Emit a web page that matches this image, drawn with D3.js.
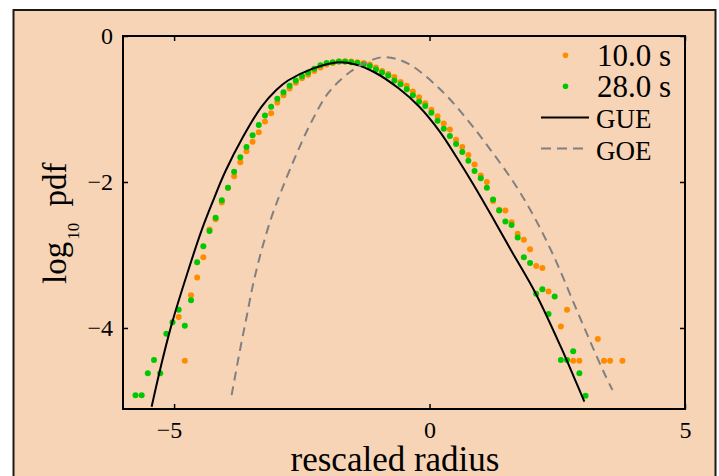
<!DOCTYPE html>
<html><head><meta charset="utf-8">
<script src="https://cdn.jsdelivr.net/npm/d3@7/dist/d3.min.js"></script>
<style>
body{margin:0;background:#fff;}
svg{display:block;font-family:"Liberation Serif","Times New Roman",serif;}
</style>
</head><body>
<svg id="chart" width="719" height="476"></svg>
<script>
// ---- data ----
const binX = [-5.755,-5.634,-5.514,-5.393,-5.272,-5.152,-5.031,-4.910,-4.790,-4.669,
  -4.549,-4.428,-4.307,-4.187,-4.066,-3.945,-3.825,-3.704,-3.583,-3.463,
  -3.342,-3.221,-3.101,-2.980,-2.859,-2.739,-2.618,-2.497,-2.377,-2.256,
  -2.135,-2.015,-1.894,-1.774,-1.653,-1.532,-1.412,-1.291,-1.170,-1.050,
  -0.929,-0.808,-0.688,-0.567,-0.446,-0.326,-0.205,-0.084,0.036,0.157,
  0.278,0.398,0.519,0.640,0.760,0.881,1.002,1.122,1.243,1.363,
  1.484,1.605,1.725,1.846,1.967,2.087,2.208,2.329,2.449,2.570,
  2.691,2.811,2.932,3.053,3.173,3.294,3.414,3.535,3.656,3.776];

const pdf10s = [null,null,null,null,null,null,null,-3.85,-4.45,-3.55,
  -3.31,-3.03,-2.65,-2.51,-2.28,-2.08,-1.92,-1.73,-1.58,-1.45,
  -1.32,-1.17,-1.06,-0.91,-0.81,-0.72,-0.64,-0.58,-0.53,-0.48,
  -0.43,-0.39,-0.37,-0.35,-0.35,-0.35,-0.36,-0.37,-0.39,-0.43,
  -0.48,-0.52,-0.56,-0.63,-0.68,-0.76,-0.84,-0.92,-1.01,-1.10,
  -1.20,-1.28,-1.42,-1.52,-1.63,-1.76,-1.91,-2.00,-2.26,-2.38,
  -2.39,-2.55,-2.71,-2.79,-2.92,-3.15,-3.18,-3.50,null,-3.98,
  -3.75,-4.45,-4.45,null,null,-4.15,-4.45,-4.45,null,-4.45];

const pdf28s = [-4.92,-4.92,-4.62,-4.44,-4.62,-4.08,-3.92,-3.75,-3.97,-3.62,
  -3.10,-2.88,-2.67,-2.49,-2.25,-2.08,-1.86,-1.66,-1.52,-1.36,
  -1.22,-1.09,-0.97,-0.86,-0.77,-0.68,-0.61,-0.55,-0.50,-0.45,
  -0.40,-0.37,-0.36,-0.35,-0.35,-0.36,-0.37,-0.39,-0.41,-0.46,
  -0.50,-0.54,-0.61,-0.66,-0.73,-0.81,-0.90,-0.96,-1.05,-1.16,
  -1.27,-1.37,-1.48,-1.59,-1.71,-1.85,-1.95,-2.08,-2.24,-2.39,
  -2.54,-2.59,-2.76,-3.03,-3.11,-3.53,-3.47,-3.81,-3.57,-4.44,
  -4.44,-4.32,-4.62,-4.93,null,null,null,null,null,null];

const gueX = [-5.44,-5.25,-5.04,-4.75,-4.46,-4.25,-4.00,-3.65,-3.29,-3.00,-2.77,-2.30,-1.79,
  -1.45,-1.07,-0.60,-0.20,0.20,0.52,0.846,1.22,1.595,2.08,2.57,2.83,3.03];
const gueY = [-5.08,-4.50,-3.93,-3.27,-2.66,-2.28,-1.86,-1.38,-0.97,-0.74,-0.61,-0.45,-0.36,
  -0.39,-0.50,-0.72,-0.97,-1.31,-1.65,-2.02,-2.47,-2.935,-3.53,-4.26,-4.68,-5.01];

const goeX = [-3.874,-3.711,-3.581,-3.451,-3.288,-3.092,-2.90,-2.60,-2.30,-1.97,-1.55,-1.10,-0.85,
  -0.42,0.228,0.749,1.20,1.66,2.05,2.44,2.83,3.16,3.42,3.58];
const goeY = [-4.92,-4.305,-3.849,-3.392,-2.936,-2.479,-2.12,-1.61,-1.16,-0.77,-0.49,-0.32,-0.29,
  -0.378,-0.744,-1.155,-1.566,-2.02,-2.48,-3.03,-3.67,-4.21,-4.62,-4.85];

const xTicks = [-5, 0, 5];
const yTicks = [0, -2, -4];
const seriesNames = ["10.0 s", "28.0 s"];
const curveNames = ["GUE", "GOE"];
const xTitle = "rescaled radius";

// ---- layout ----
const svg = d3.select("#chart");
const bg = "#f7d4b6";
const orange = "#ff8c00", green = "#00c800";
const L = 123, R = 685, T = 36, B = 409;

svg.append("rect").attr("x", 13.5).attr("y", 10).attr("width", 702).attr("height", 480)
  .attr("fill", bg).attr("stroke", "#1a1a1a").attr("stroke-width", 2);

const x = d3.scaleLinear().domain([-6, 5]).range([L, R]);
const y = d3.scaleLinear().domain([-5.11, 0]).range([B, T]);

const fmt = d => d < 0 ? "\u2212" + Math.abs(d) : String(d);

// axes
const gx = svg.append("g").attr("transform", `translate(0,${B})`)
  .call(d3.axisBottom(x).tickValues(xTicks).tickSizeInner(-5).tickSizeOuter(0).tickPadding(12).tickFormat(fmt));
const gy = svg.append("g").attr("transform", `translate(${L},0)`)
  .call(d3.axisLeft(y).tickValues(yTicks).tickSizeInner(-5).tickSizeOuter(0).tickPadding(10).tickFormat(fmt));
const gt = svg.append("g").attr("transform", `translate(0,${T})`)
  .call(d3.axisTop(x).tickValues(xTicks).tickSizeInner(-5).tickSizeOuter(0).tickFormat(""));
const gr = svg.append("g").attr("transform", `translate(${R},0)`)
  .call(d3.axisRight(y).tickValues(yTicks).tickSizeInner(-5).tickSizeOuter(0).tickFormat(""));
[gx, gy, gt, gr].forEach(g => {
  g.select(".domain").remove();
  g.selectAll(".tick line").attr("stroke", "#000").attr("stroke-width", 1.5);
  g.selectAll("text").attr("font-family", "Liberation Serif, serif").attr("font-size", 24).attr("fill", "#000");
});
gx.selectAll(".tick text").attr("x", d => d < 0 ? -5 : 0);

// data dots
const pts10 = binX.map((v, i) => [v, pdf10s[i]]).filter(d => d[1] !== null);
const pts28 = binX.map((v, i) => [v, pdf28s[i]]).filter(d => d[1] !== null);

svg.append("g").selectAll("circle").data(pts10).join("circle")
  .attr("cx", d => x(d[0])).attr("cy", d => y(d[1])).attr("r", 3).attr("fill", orange);
svg.append("g").selectAll("circle").data(pts28).join("circle")
  .attr("cx", d => x(d[0])).attr("cy", d => y(d[1])).attr("r", 3).attr("fill", green);

// theory curves
const line = d3.line().x(d => x(d[0])).y(d => y(d[1])).curve(d3.curveCatmullRom.alpha(0.5));
svg.append("path").datum(gueX.map((v, i) => [v, gueY[i]]))
  .attr("d", line).attr("fill", "none").attr("stroke", "#000").attr("stroke-width", 2);
svg.append("path").datum(goeX.map((v, i) => [v, goeY[i]]))
  .attr("d", line).attr("fill", "none").attr("stroke", "#808080").attr("stroke-width", 2)
  .attr("stroke-dasharray", "9,6");

// box
svg.append("rect").attr("x", L).attr("y", T).attr("width", R - L).attr("height", B - T)
  .attr("fill", "none").attr("stroke", "#000").attr("stroke-width", 2);

// legend
const lg = svg.append("g");
[orange, green].forEach((c, i) => {
  lg.append("circle").attr("cx", 565.5).attr("cy", 55.3 + i * 31).attr("r", 2.8).attr("fill", c);
  lg.append("text").attr("x", 597).attr("y", 66 + i * 31).attr("font-size", 31).text(seriesNames[i]);
});
[["#000", null], ["#808080", "10,6"]].forEach((s, i) => {
  const l = lg.append("line").attr("x1", 541).attr("x2", 589)
    .attr("y1", 117.5 + i * 31).attr("y2", 117.5 + i * 31)
    .attr("stroke", s[0]).attr("stroke-width", 2);
  if (s[1]) l.attr("stroke-dasharray", s[1]);
  lg.append("text").attr("x", 596).attr("y", 128 + i * 32).attr("font-size", 27).text(curveNames[i]);
});

// axis titles
svg.append("text").attr("x", 395).attr("y", 471).attr("text-anchor", "middle")
  .attr("font-size", 35).text(xTitle);
const yl = svg.append("text").attr("transform", "translate(66,284) rotate(-90)")
  .attr("font-size", 33);
yl.append("tspan").text("log");
yl.append("tspan").attr("font-size", 17).attr("dy", 13).attr("dx", 2).text("10");
yl.append("tspan").attr("dy", -13).attr("dx", 8).text(" pdf");
</script>
</body></html>
